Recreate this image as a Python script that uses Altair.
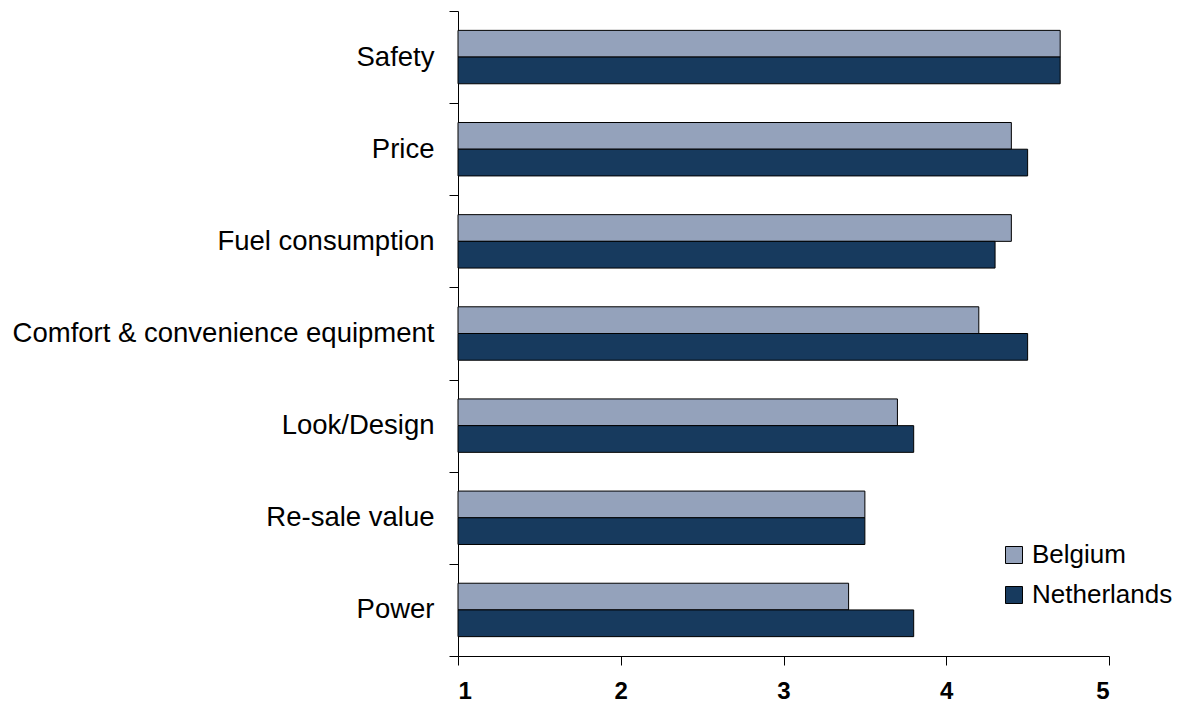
import altair as alt
import pandas as pd

categories = ["Safety", "Price", "Fuel consumption", "Comfort & convenience equipment",
              "Look/Design", "Re-sale value", "Power"]
belgium = [4.7, 4.4, 4.4, 4.2, 3.7, 3.5, 3.4]
netherlands = [4.7, 4.5, 4.3, 4.5, 3.8, 3.5, 3.8]
countries = ["Belgium", "Netherlands"]
colors = ["#94A2BB", "#173A5E"]
x_ticks = [1, 2, 3, 4, 5]

rows = []
for c, b, n in zip(categories, belgium, netherlands):
    rows.append({"category": c, "country": "Belgium", "value": b})
    rows.append({"category": c, "country": "Netherlands", "value": n})
df = pd.DataFrame(rows)

FONT = "Liberation Sans, Arial, Helvetica, sans-serif"

chart = alt.Chart(df).mark_bar(stroke="black", strokeWidth=1).encode(
    x=alt.X("value:Q",
            scale=alt.Scale(domain=[1, 5], zero=False, nice=False),
            axis=alt.Axis(values=x_ticks, format="d", title=None, grid=False,
                          domainColor="black", tickColor="black", tickSize=9,
                          labelFont=FONT, labelFontSize=24, labelFontWeight="bold",
                          labelColor="black", labelPadding=14)),
    x2=alt.datum(1),
    y=alt.Y("category:N", sort=categories,
            scale=alt.Scale(paddingInner=0, paddingOuter=0),
            axis=alt.Axis(title=None, tickBand="extent", domainColor="black",
                          tickColor="black", tickSize=9, labelFont=FONT,
                          labelFontSize=27.5, labelColor="black", labelPadding=15,
                          labelLimit=600)),
    yOffset=alt.YOffset("country:N", sort=countries,
                        scale=alt.Scale(paddingInner=0, paddingOuter=0.725)),
    color=alt.Color("country:N", sort=countries,
                    scale=alt.Scale(domain=countries, range=colors),
                    legend=alt.Legend(title=None, orient="none", legendX=543,
                                      legendY=531, symbolType="square",
                                      symbolSize=289, symbolStrokeColor="black",
                                      symbolStrokeWidth=1, labelFont=FONT,
                                      labelFontSize=26, labelColor="black",
                                      labelOffset=5, rowPadding=14, padding=0,
                                      labelLimit=400)),
).properties(
    width=651,
    height=645,
    autosize=alt.AutoSizeParams(type="none"),
    padding={"left": 450, "top": 3, "right": 66, "bottom": 46},
).configure_view(stroke=None)

chart.save("out.html", embed_options={"renderer": "svg", "actions": False})
